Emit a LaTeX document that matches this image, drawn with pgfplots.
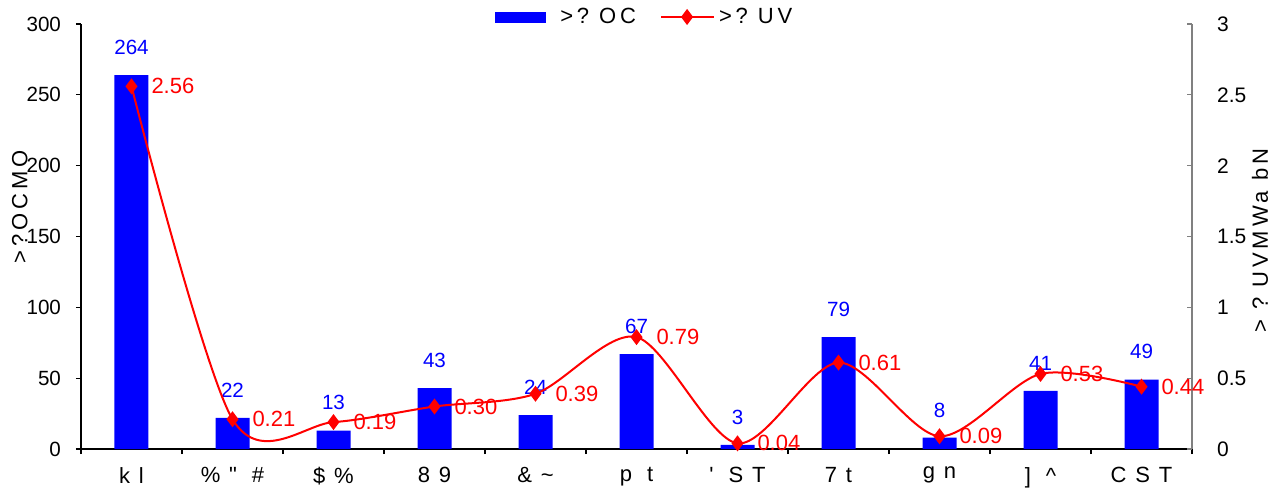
\documentclass[border=0pt]{standalone}
\usepackage{fontspec}
\setmainfont{Liberation Sans}
\newfontfamily\lsa[LetterSpace=18]{Liberation Sans}
\newfontfamily\lsb[LetterSpace=40]{Liberation Sans}
\usepackage{pgfplots}
\pgfplotsset{compat=1.18}
\definecolor{axgray}{RGB}{128,128,128}
\begin{document}
\begin{tikzpicture}
\path[use as bounding box] (-40.5pt,-19.5pt) rectangle (596pt,224.5pt);
\pgfplotsset{every axis/.append style={
  scale only axis, width=555.5pt, height=212.5pt,
  at={(0,0)}, anchor=south west,
  font=\fontsize{10.3}{12}\selectfont,
  /pgf/number format/assume math mode=true,
  xmin=-0.5, xmax=10.5,
}}
\begin{axis}[
  ymin=0, ymax=300,
  axis x line*=bottom, axis y line*=left,
  axis line style={black, line width=0.6pt},
  xtick={0,...,10},
  xticklabels={kl, \%"\ \#, \$\%, 89, \&\textasciitilde, p\ t, \textquotesingle\ ST, 7t, gn, ]\ \textasciicircum, CST},
  major x tick style={draw=none},
  minor xtick={-0.5,0.5,...,10.5},
  minor tick length=2.5pt,
  minor x tick style={black, line width=0.6pt},
  xticklabel style={yshift=-3pt, font=\lsb\fontsize{11}{13}\selectfont},
  ytick={0,50,...,300},
  yticklabel style={xshift=-4pt},
  major tick length=2.5pt,
  tick align=outside,
  y tick style={black, line width=0.6pt},
  ylabel={>?OCMO},
  ylabel style={at={(axis description cs:-0.055,0.57)}, anchor=center, rotate=0, font=\lsa\fontsize{11}{13}\selectfont},
]
\addplot[ybar, bar width=17pt, fill=blue, draw=none,
  nodes near coords, every node near coord/.append style={blue, anchor=south, inner sep=0pt, yshift=10pt, font=\fontsize{10.3}{12}\selectfont}]
coordinates {(0,264) (1,22) (2,13) (3,43) (4,24) (5,67) (6,3) (7,79) (8,8) (9,41) (10,49)};
\end{axis}
\begin{axis}[
  ymin=0, ymax=3,
  axis x line=none, axis y line*=right,
  axis line style={axgray, line width=0.6pt},
  ytick={0,0.5,...,3},
  yticklabels={0,0.5,1,1.5,2,2.5,3},
  yticklabel style={xshift=9pt, font=\fontsize{10.5}{12}\selectfont},
  major tick length=2.5pt,
  tick align=inside,
  y tick style={axgray, line width=0.6pt},
  ylabel={>\ ?\ UVMWa\ bN},
  ylabel style={at={(axis description cs:1.0612,0.49)}, anchor=center, rotate=0, font=\lsa\fontsize{11}{13}\selectfont},
  legend columns=2,
  legend style={at={(axis description cs:0.5085,1.0165)}, anchor=center, draw=none, fill=none, font=\lsa\fontsize{11}{13}\selectfont,
    /tikz/every even column/.append style={column sep=10pt}},
  legend image code/.code={\draw[mark repeat=2,mark phase=2,#1] plot coordinates {(0pt,0pt)(13pt,0pt)(26.5pt,0pt)};},
]
\addlegendimage{legend image code/.code={\fill[blue] (0pt,-2.5pt) rectangle (25pt,2.5pt); \path (30pt,0pt);}}
\addlegendentry{>\,?\ OC}
\addplot[red, line width=1pt, smooth, mark=diamond*, mark size=3.2pt,
  mark options={solid, fill=red},
  point meta=explicit symbolic,
  nodes near coords, every node near coord/.append style={red, anchor=west, inner sep=0pt, xshift=9.5pt, font=\fontsize{11}{13}\selectfont}]
coordinates {(0,2.56)[2.56] (1,0.21)[0.21] (2,0.19)[0.19] (3,0.30)[0.30] (4,0.39)[0.39] (5,0.79)[0.79] (6,0.04)[0.04] (7,0.61)[0.61] (8,0.09)[0.09] (9,0.53)[0.53] (10,0.44)[0.44]};
\addlegendentry{>\,?\ UV}
\end{axis}
\end{tikzpicture}
\end{document}
